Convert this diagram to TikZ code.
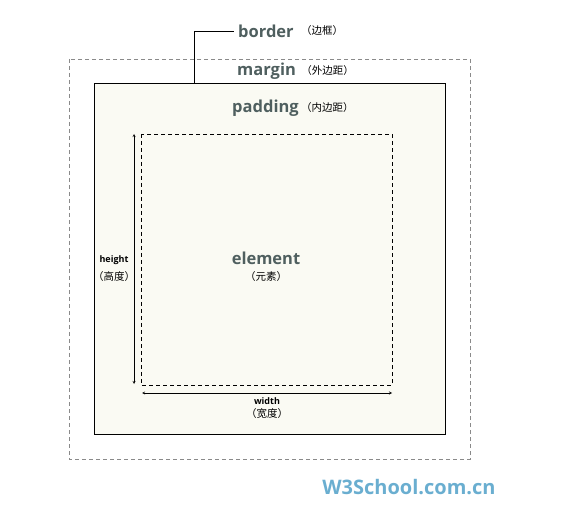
\documentclass[tikz,border=0pt]{standalone}
\usepackage{fontspec}
\setmainfont{Open Sans}
\newfontfamily\cjk{Noto Sans CJK SC}
\usetikzlibrary{arrows,calc}
\definecolor{boxfill}{HTML}{FAFAF3}
\definecolor{labelgray}{HTML}{4F5F5F}
\definecolor{marginline}{HTML}{8A8A8A}
\definecolor{logoblue}{HTML}{6AAED0}
\tikzset{
  biglabel/.style={inner sep=0pt,text=labelgray,font=\fontsize{16.5}{16.5}\selectfont\bfseries},
  cnlabel/.style={inner sep=0pt,font=\fontsize{10.5}{10.5}\selectfont\cjk},
  smalllabel/.style={inner sep=0pt,font=\fontsize{9}{9}\selectfont\bfseries}
}
\begin{document}
\begin{tikzpicture}[x=1pt,y=-1pt]
      \useasboundingbox (0,0) rectangle (570,510);
      %外边距
        \draw[dashed,marginline,dash pattern=on 4pt off 3pt](69,59) rectangle (470,459);
      %边框
        \draw[fill=boxfill](94,83) rectangle (445,434);
      %内容
        \draw[dashed,line width=0.7pt,dash pattern=on 4pt off 3pt](141,134) rectangle (392,385);
      %文字
        \node[biglabel,anchor=west] (border) at (238,31) {border};
        \node[cnlabel,anchor=west] (bordercn) at ([xshift=7pt]border.east) {（边框）};
        \node[biglabel,anchor=west] (margin) at (237,71) {margin};
        \node[cnlabel,anchor=west] (margincn) at ([xshift=5pt]margin.east) {（外边距）};
        \node[biglabel,anchor=west] (padding) at (232,108) {padding};
        \node[cnlabel,anchor=west] (paddingcn) at ([xshift=2pt]padding.east) {（内边距）};
        \node[biglabel] (element) at (266,258) {element};
        \node[cnlabel] (elementcn) at (266,277) {（元素）};
        \node[smalllabel] (height) at (114,260) {height};
        \node[cnlabel] (heightcn) at (114,277) {（高度）};
        \node[smalllabel] (width) at (267,401) {width};
        \node[cnlabel] (widthcn) at (267,414) {（宽度）};
        \node[inner sep=0pt,text=logoblue,font=\fontsize{20}{20}\selectfont\bfseries] (logo) at (409,487) {W3School.com.cn};
      %引线与箭头
        \coordinate (lead) at (194,83);
        \draw (lead) |- ([xshift=-4pt]border.west);
        \coordinate (htop) at (134,134);
        \coordinate (hbot) at (134,384);
        \draw[<->,>=stealth](htop)--(hbot);
        \coordinate (wleft) at (142,393);
        \coordinate (wright) at (392,393);
        \draw[<->,>=stealth](wleft)--(wright);
      \end{tikzpicture}
\end{document}
